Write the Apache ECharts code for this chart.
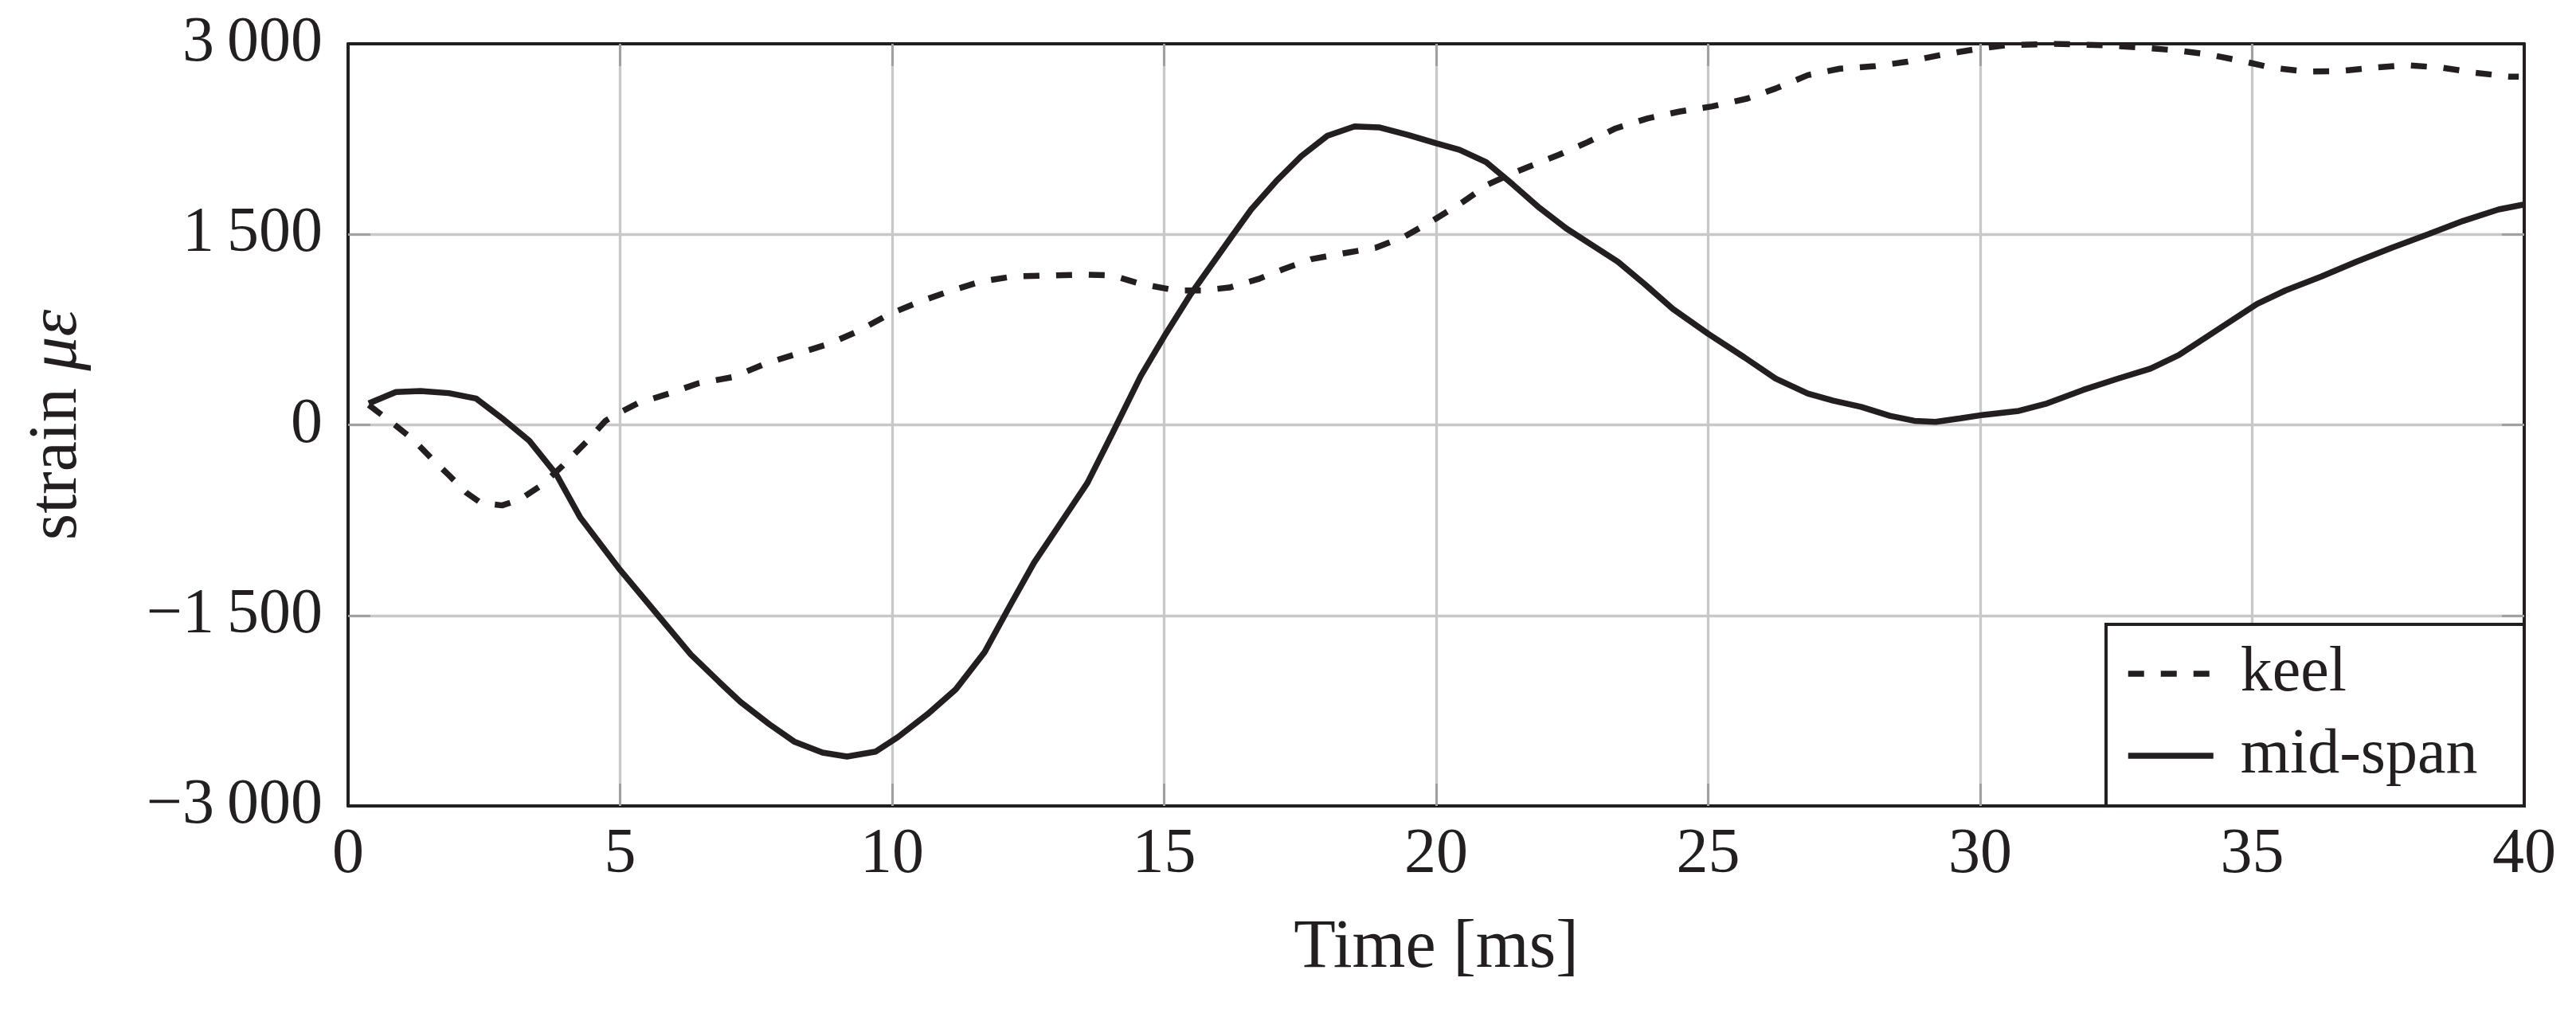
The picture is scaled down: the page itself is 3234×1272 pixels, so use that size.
<!DOCTYPE html>
<html>
<head>
<meta charset="UTF-8" />
<script src="https://cdn.jsdelivr.net/npm/echarts@6/dist/echarts.min.js"></script>
<title>strain</title>
<style>
  body { margin: 0; background: #ffffff; }
  #chart { width: 3234px; height: 1272px; }
</style>
</head>
<body>
<div id="chart"></div>
<script>
// values (time in ms, strain in microstrain)
var keelTime = [0.38, 0.88, 1.2, 1.53, 1.86, 2.18, 2.44, 2.83, 3.16, 3.55, 3.95, 4.4, 4.73, 4.96, 5.32, 5.9,
  6.43, 7.08, 7.67, 8.26, 8.85, 9.37, 9.96, 10.52, 11.04, 11.63, 12.22, 12.87, 13.53, 14.05, 14.57, 15.23,
  15.68, 16.2, 16.73, 17.19, 17.71, 18.37, 18.89, 19.41, 19.93, 20.49, 20.95, 21.41, 21.8, 22.26, 22.78,
  23.3, 23.89, 24.48, 25.07, 25.72, 26.24, 26.83, 27.42, 28.07, 28.66, 29.25, 29.97, 30.45, 31.36, 32.34,
  33.0, 33.59, 34.17, 34.83, 35.35, 36.0, 36.59, 37.25, 37.83, 38.49, 39.08, 39.73, 39.9]
var keelStrain = [157, -7, -117, -262, -399, -536, -614, -634, -587, -477, -320, -125, 32, 90, 169, 247,
  326, 377, 482, 561, 639, 737, 874, 972, 1050, 1128, 1168, 1176, 1183, 1176, 1109, 1058,
  1058, 1081, 1148, 1226, 1305, 1356, 1395, 1481, 1606, 1755, 1892, 1982, 2049, 2127, 2225,
  2334, 2413, 2467, 2507, 2569, 2648, 2753, 2804, 2824, 2859, 2910, 2961, 2988, 3000, 2988,
  2969, 2949, 2918, 2863, 2812, 2781, 2785, 2812, 2832, 2812, 2773, 2742, 2742]

var midTime = [0.38, 0.88, 1.33, 1.85, 2.35, 2.83, 3.33, 3.83, 4.27, 5.0, 5.65, 6.3, 6.82, 7.21, 7.74,
  8.2, 8.72, 9.17, 9.7, 10.1, 10.65, 11.17, 11.7, 12.15, 12.61, 13.07, 13.59, 14.05, 14.57, 15.03,
  15.49, 15.88, 16.27, 16.6, 17.06, 17.52, 18.0, 18.5, 18.95, 19.48, 20.0, 20.43, 20.92, 21.41, 21.9,
  22.39, 22.84, 23.34, 23.83, 24.35, 25.0, 25.66, 26.24, 26.83, 27.3, 27.81, 28.34, 28.79, 29.18,
  29.64, 30.06, 30.71, 31.23, 31.89, 32.54, 33.13, 33.65, 34.11, 34.63, 35.09, 35.61, 36.27, 36.92,
  37.57, 38.23, 38.88, 39.53, 40.0]
var midStrain = [169, 259, 267, 250, 208, 52, -125, -391, -731, -1142, -1475, -1808, -2023, -2180, -2356,
  -2493, -2580, -2611, -2572, -2460, -2278, -2082, -1789, -1436, -1084, -790, -457, -66, 385, 717,
  1030, 1265, 1500, 1696, 1919, 2115, 2276, 2350, 2342, 2283, 2217, 2166, 2068, 1892, 1708,
  1547, 1422, 1285, 1109, 913, 717, 533, 365, 247, 190, 142, 71, 32, 24,
  52, 79, 110, 169, 275, 365, 443, 549, 678, 823, 952, 1058, 1168, 1285,
  1395, 1500, 1606, 1696, 1735]

var seriesNames = ['keel', 'mid-span']
var xTicks = { min: 0, max: 40, step: 5 }
var yTicks = { min: -3000, max: 3000, step: 1500 }
// tick marks only between the corners, the frame covers the rest
var xInnerTicks = [5, 10, 15, 20, 25, 30, 35]
var yInnerTicks = [-1500, 0, 1500]

var ink = '#231f20'
var font = 'Liberation Serif'

function pairs(t, v) {
  var out = []
  for (var i = 0; i < t.length; i++) out.push([t[i], v[i]])
  return out
}

// 3 000, −1 500 ... with a thin space and a real minus
function fmtStrain(v) {
  var s = String(Math.abs(v))
  if (s.length > 3) s = s.slice(0, s.length - 3) + '\u2009' + s.slice(-3)
  return (v < 0 ? '\u2212' : '') + s
}

var chart = echarts.init(document.getElementById('chart'), null, { renderer: 'canvas' })

function ticks(vals) {
  return { show: true, inside: true, length: 28, customValues: vals, lineStyle: { color: '#a0a0a0', width: 3 } }
}
var frameLine = { show: true, onZero: false, lineStyle: { color: ink, width: 4 } }
var gridLine = { show: true, lineStyle: { color: '#c8c8c8', width: 3.3 } }

var option = {
  animation: false,
  backgroundColor: '#ffffff',
  grid: { left: 437, top: 55, width: 2732, height: 957, containLabel: false },
  xAxis: [
    {
      type: 'value',
      min: xTicks.min, max: xTicks.max, interval: xTicks.step,
      name: 'Time [ms]',
      nameLocation: 'middle',
      nameGap: 136,
      nameTextStyle: { fontFamily: font, fontSize: 86, color: ink },
      axisLine: frameLine,
      axisTick: ticks(xInnerTicks),
      axisLabel: { margin: 22, fontFamily: font, fontSize: 80, color: ink },
      splitLine: gridLine
    },
    {
      type: 'value', position: 'top',
      min: xTicks.min, max: xTicks.max, interval: xTicks.step,
      axisLine: frameLine,
      axisTick: ticks(xInnerTicks),
      axisLabel: { show: false },
      splitLine: { show: false }
    }
  ],
  yAxis: [
    {
      type: 'value',
      min: yTicks.min, max: yTicks.max, interval: yTicks.step,
      name: '{r|strain }{i|\u03bc\u03b5}',
      nameLocation: 'middle',
      nameRotate: 90,
      nameGap: 322,
      nameTextStyle: {
        color: ink,
        rich: {
          r: { fontFamily: font, fontSize: 86, color: ink },
          i: { fontFamily: font, fontSize: 86, fontStyle: 'italic', color: ink }
        }
      },
      axisLine: frameLine,
      axisTick: ticks(yInnerTicks),
      axisLabel: { margin: 32, fontFamily: font, fontSize: 80, color: ink, formatter: fmtStrain },
      splitLine: gridLine
    },
    {
      type: 'value', position: 'right',
      min: yTicks.min, max: yTicks.max, interval: yTicks.step,
      axisLine: frameLine,
      axisTick: ticks(yInnerTicks),
      axisLabel: { show: false },
      splitLine: { show: false }
    }
  ],
  graphic: [
    {
      type: 'rect', z: 3,
      shape: { x: 2644, y: 784, width: 525, height: 228 },
      style: { fill: '#ffffff', stroke: ink, lineWidth: 4 }
    }
  ],
  legend: {
    orient: 'vertical',
    left: 2668,
    top: 806,
    padding: 0,
    itemWidth: 107,
    itemHeight: 20,
    itemGap: 23,
    z: 5,
    itemStyle: { opacity: 0 },
    lineStyle: { width: 7.5 },
    textStyle: { fontFamily: font, fontSize: 80, color: ink, padding: [0, 0, 0, 29] },
    data: seriesNames
  },
  series: [
    {
      name: seriesNames[0],
      type: 'line',
      symbol: 'none',
      xAxisIndex: 0, yAxisIndex: 0,
      lineStyle: { color: ink, width: 7.5, type: [20, 21] },
      itemStyle: { color: ink },
      data: pairs(keelTime, keelStrain)
    },
    {
      name: seriesNames[1],
      type: 'line',
      symbol: 'none',
      xAxisIndex: 0, yAxisIndex: 0,
      lineStyle: { color: ink, width: 7.5 },
      itemStyle: { color: ink },
      data: pairs(midTime, midStrain)
    }
  ]
}

chart.setOption(option)
</script>
</body>
</html>
